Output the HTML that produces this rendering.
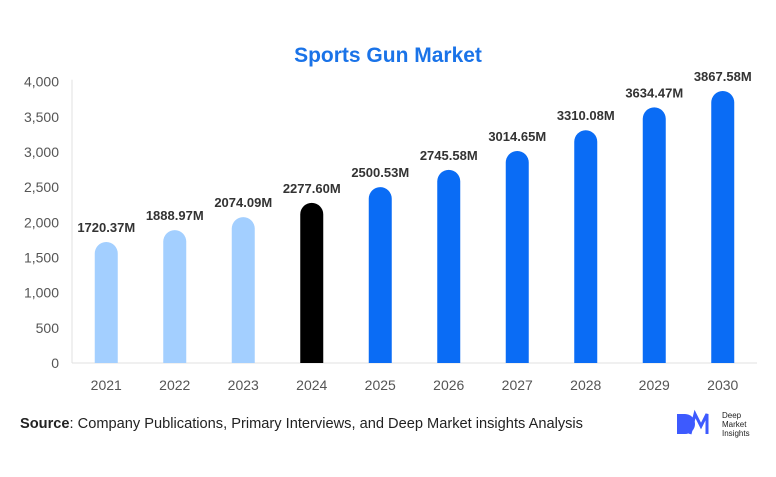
<!DOCTYPE html>
<html><head><meta charset="utf-8"><style>
body{margin:0;background:#fff;font-family:"Liberation Sans",sans-serif}
svg text{font-family:"Liberation Sans",sans-serif}
</style></head><body>
<svg width="776" height="472" xmlns="http://www.w3.org/2000/svg" id="chart">
<text x="388" y="62" text-anchor="middle" font-size="21" font-weight="bold" fill="#1a73e8">Sports Gun Market</text>
<g id="yaxis"></g>
<g id="xaxis"></g>
<g id="bars"></g>
<text x="20" y="428" font-size="14.5" fill="#222" textLength="563" lengthAdjust="spacingAndGlyphs"><tspan font-weight="bold">Source</tspan>: Company Publications, Primary Interviews, and Deep Market insights Analysis</text>
<g>
<path d="M677 414 h8 a10 10 0 0 1 0 20 h-8 z" fill="#3d5afe"/>
<path d="M690 434 l5 -20 l6 12 l6 -12 v20" fill="none" stroke="#3d5afe" stroke-width="3"/>
<text x="722" y="418" font-size="8" fill="#222">Deep</text>
<text x="722" y="427" font-size="8" fill="#222">Market</text>
<text x="722" y="436" font-size="8" fill="#222">Insights</text>
</g>
</svg>
<script>
const categories=["2021","2022","2023","2024","2025","2026","2027","2028","2029","2030"];
const values=[1720.37,1888.97,2074.09,2277.60,2500.53,2745.58,3014.65,3310.08,3634.47,3867.58];
const labels=["1720.37M","1888.97M","2074.09M","2277.60M","2500.53M","2745.58M","3014.65M","3310.08M","3634.47M","3867.58M"];
const colors=["#a3cfff","#a3cfff","#a3cfff","#000000","#0a6cf5","#0a6cf5","#0a6cf5","#0a6cf5","#0a6cf5","#0a6cf5"];
const yTicks=[0,500,1000,1500,2000,2500,3000,3500,4000];
const NS="http://www.w3.org/2000/svg";
const x0=72,x1=757,y0=363,yTop=81.7,yMax=4000;
const band=(x1-x0)/categories.length;
const y=v=>y0-(v/yMax)*(y0-yTop);
const xc=i=>x0+band*(i+0.5);
function mk(t,a,p){const e=document.createElementNS(NS,t);for(const k in a)e.setAttribute(k,a[k]);p.appendChild(e);return e;}
const ya=document.getElementById('yaxis'),xa=document.getElementById('xaxis'),bg=document.getElementById('bars');
mk('line',{x1:x0,x2:x0,y1:yTop-2,y2:y0,stroke:'#e0e0e0'},ya);
mk('line',{x1:x0,x2:x1,y1:y0,y2:y0,stroke:'#e0e0e0'},xa);
yTicks.forEach(t=>{const e=mk('text',{x:59,y:y(t)+5,'text-anchor':'end','font-size':14,fill:'#555'},ya);e.textContent=t.toLocaleString('en-US');

});
categories.forEach((c,i)=>{
const e=mk('text',{x:xc(i),y:390,'text-anchor':'middle','font-size':14,fill:'#555'},xa);e.textContent=c;


const w=23,top=y(values[i]),h=y0-top,r=11.5,l=xc(i)-w/2;
const b=mk('path',{d:`M${l} ${y0} V${top+r} A${r} ${r} 0 0 1 ${l+w} ${top+r} V${y0} Z`,fill:colors[i]},bg);


const t=mk('text',{x:xc(i),y:top-10,'text-anchor':'middle','font-size':13,'font-weight':'bold',fill:'#333'},bg);t.textContent=labels[i];


});
</script>
</body></html>
